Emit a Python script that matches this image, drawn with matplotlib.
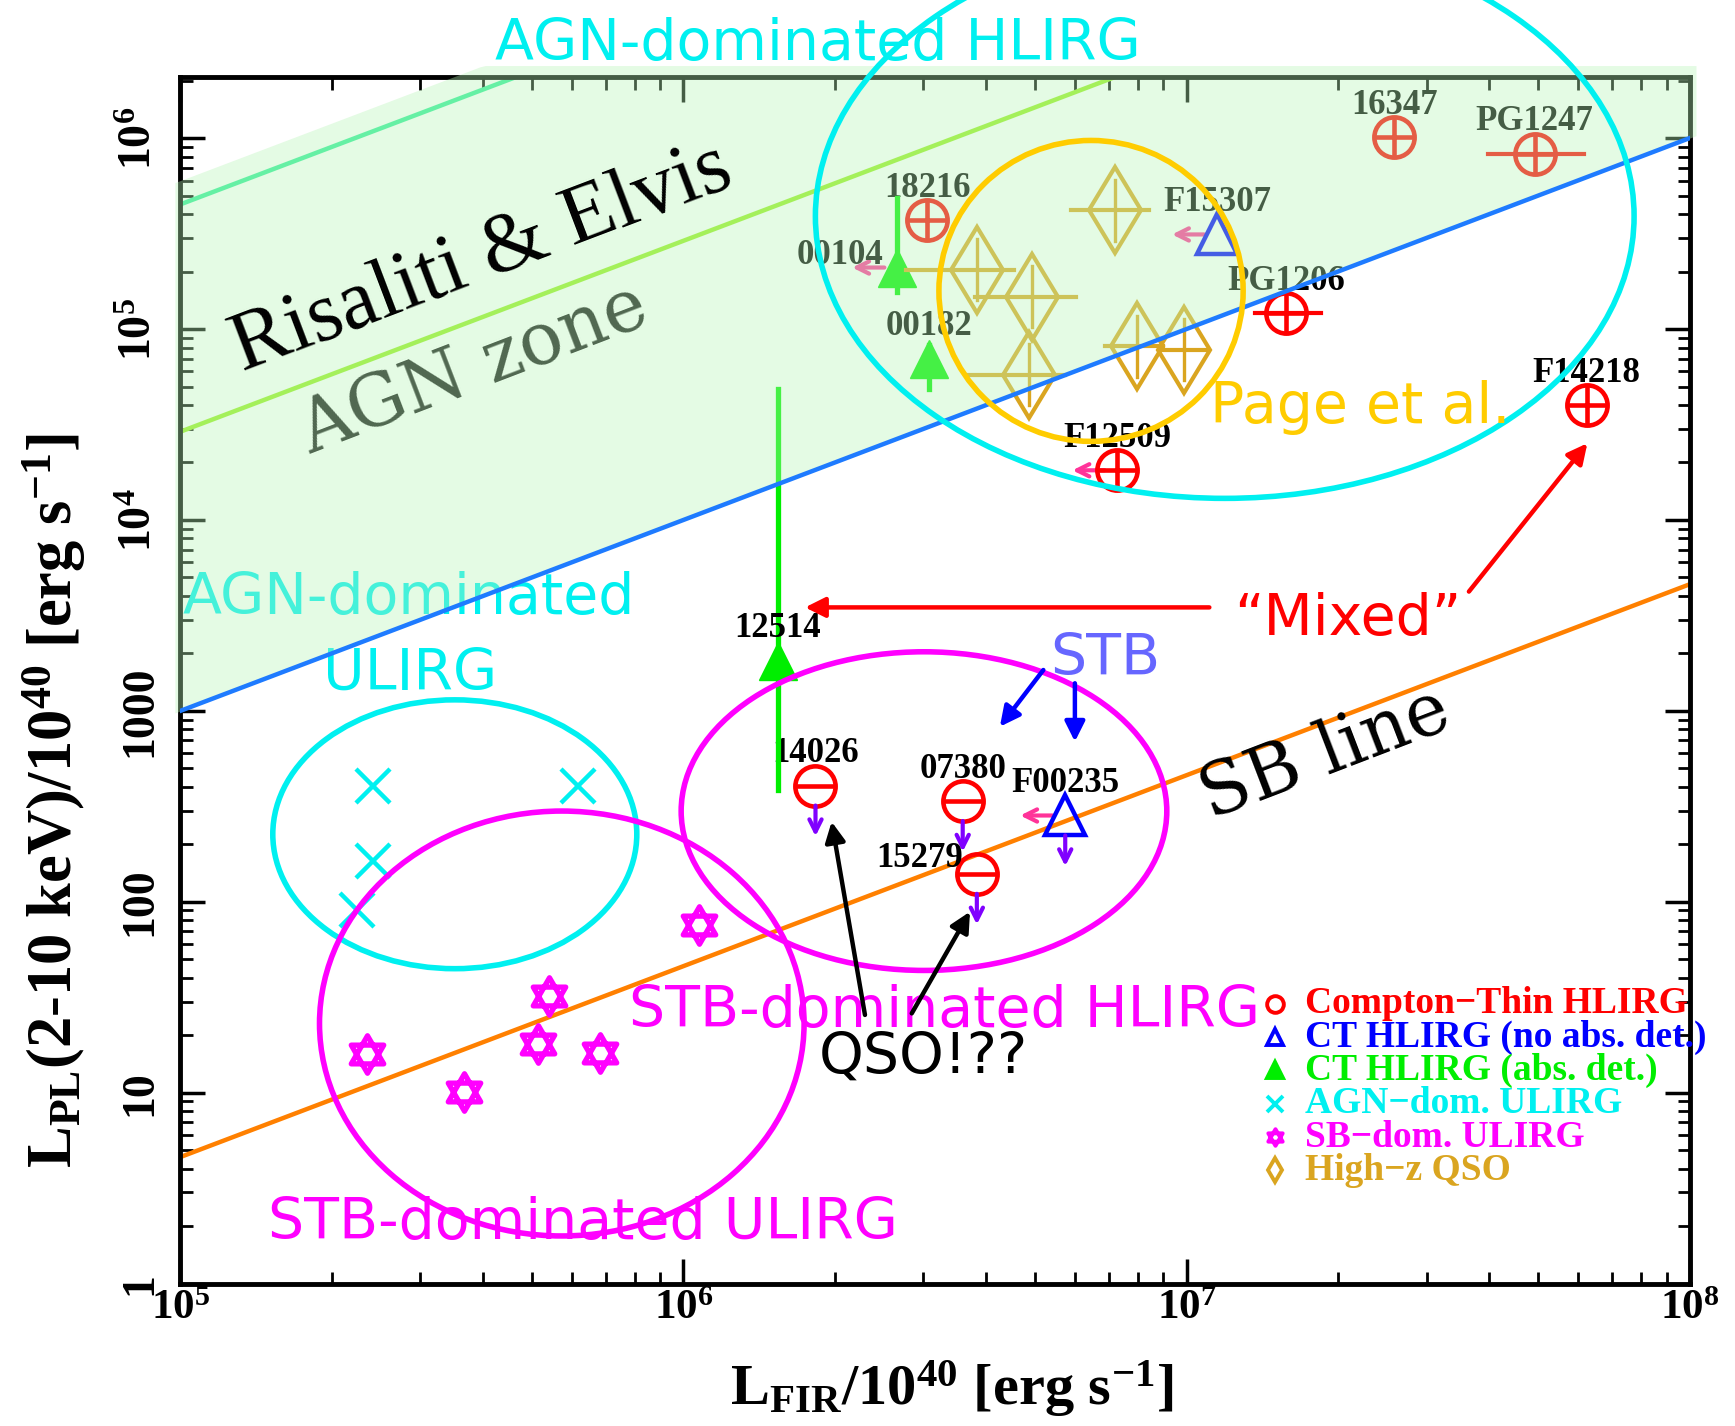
import numpy as np
import matplotlib.pyplot as plt
from matplotlib.patches import Ellipse
from matplotlib.path import Path
from matplotlib.ticker import FixedLocator, FixedFormatter

plt.rcParams['font.family'] = ['Liberation Serif', 'DejaVu Serif']
plt.rcParams['mathtext.fontset'] = 'custom'
plt.rcParams['mathtext.rm'] = 'Liberation Serif:bold'
plt.rcParams['mathtext.it'] = 'Liberation Serif:bold'
plt.rcParams['mathtext.bf'] = 'Liberation Serif:bold'
plt.rcParams['mathtext.default'] = 'rm'

# ---- data (L_FIR/1e40, L_PL/1e40) ----
thin_names = ['18216', '16347', 'PG1247', 'PG1206', 'F14218', 'F12509', '14026', '07380', '15279']
thin_x = [3.05e6, 2.59e7, 4.92e7, 1.58e7, 6.24e7, 7.29e6, 1.83e6, 3.59e6, 3.83e6]
thin_y = [3.72e5, 1.01e6, 8.3e5, 1.21e5, 4.0e4, 1.82e4, 406, 337, 140]
thin_xmin = [np.nan, np.nan, 3.98e7, 1.37e7, np.nan, np.nan, np.nan, np.nan, np.nan]
thin_xmax = [np.nan, np.nan, 6.18e7, 1.85e7, np.nan, np.nan, np.nan, np.nan, np.nan]
thin_yupper = [False, False, False, False, False, False, True, True, True]
thin_xupper = [False, False, False, False, False, True, False, False, False]

ctn_names = ['F15307', 'F00235']
ctn_x = [1.15e7, 5.74e6]
ctn_y = [3.13e5, 283]
ctn_yupper = [False, True]
ctn_xupper = [True, True]

cta_names = ['00104', '00182', '12514']
cta_x = [2.66e6, 3.08e6, 1.54e6]
cta_y = [2.1e5, 7.0e4, 1835]
cta_ylo = [1.56e5, 4.83e4, 385]
cta_yhi = [4.86e5, 8.24e4, 4.83e4]
cta_xupper = [True, False, False]

agn_x = [2.41e5, 6.16e5, 2.41e5, 2.24e5]
agn_y = [406, 406, 164, 91]

sb_x = [2.35e5, 3.67e5, 5.13e5, 5.4e5, 6.82e5, 1.075e6]
sb_y = [15.85, 10.07, 17.9, 32.2, 16.1, 75.5]

qso_x = [7.22e6, 3.83e6, 4.94e6, 4.86e6, 7.99e6, 9.88e6]
qso_y = [4.2e5, 2.04e5, 1.48e5, 5.75e4, 8.13e4, 7.81e4]
qso_xmin = [5.89e6, 2.77e6, 3.79e6, 3.70e6, 6.9e6, 8.97e6]
qso_xmax = [8.44e6, 4.55e6, 6.04e6, 5.74e6, 8.97e6, 1.10e7]

# L_X / L_FIR ratios of the reference lines
re_low_ratio = 1e-2       # lower edge of Risaliti & Elvis zone
re_mid_ratio = 0.29
re_high_ratio = 4.5
re_band_top = 6.0
sb_ratio = 4.6e-5

y_tick_vals = [1, 10, 100, 1000, 1e4, 1e5, 1e6]
y_tick_labels = ['1', '10', '100', '1000', '$10^4$', '$10^5$', '$10^6$']
x_tick_vals = [1e5, 1e6, 1e7, 1e8]
x_tick_labels = ['$10^5$', '$10^6$', '$10^7$', '$10^8$']

legend_labels = ['Compton\u2212Thin HLIRG', 'CT HLIRG (no abs. det.)', 'CT HLIRG (abs. det.)',
                 'AGN\u2212dom. ULIRG', 'SB\u2212dom. ULIRG', 'High\u2212z QSO']

RED, BLUE, GREEN, CYAN, MAG, GOLD = '#ff0000', '#0000ff', '#00ee00', '#00f0f0', '#ff00ff', '#daa520'
PINK, PURPLE = '#ff3399', '#8000ff'

star = Path([(0, 1), (-0.866, -0.5), (0.866, -0.5), (0, 1),
             (0, -1), (0.866, 0.5), (-0.866, 0.5), (0, -1)],
            [Path.MOVETO, Path.LINETO, Path.LINETO, Path.CLOSEPOLY,
             Path.MOVETO, Path.LINETO, Path.LINETO, Path.CLOSEPOLY])

fig = plt.figure(figsize=(17.35, 14.26), dpi=100)
ax = fig.add_axes([0.104, 0.0999, 0.8698, 0.8458])
ax.set_xscale('log')
ax.set_yscale('log')
ax.set_xlim(1e5, 1e8)
ax.set_ylim(1, 2.08e6)

# reference lines
xl = np.array([1e5, 1e8])
ax.plot(xl, sb_ratio * xl, color='#ff8000', lw=3.2, zorder=2)
ax.plot(xl, re_mid_ratio * xl, color='#99ee22', lw=3.2, zorder=2)
ax.plot(xl, re_high_ratio * xl, color='#33ee99', lw=3.2, zorder=2)
ax.plot(xl, re_low_ratio * xl, color='#1e7bff', lw=3.2, zorder=5)

# shaded zone, drawn over the points
xs = np.logspace(np.log10(0.975e5), np.log10(1.03e8), 300)
ax.fill_between(xs, re_low_ratio * xs, np.minimum(re_band_top * xs, 2.4e6),
                color='#b8f5b8', alpha=0.38, lw=0, zorder=4, clip_on=False)


def upper_arrow(x, y):
    ax.annotate('', xy=(x, y / 10**0.28), xytext=(x, y / 10**0.09),
                arrowprops=dict(arrowstyle='->', color=PURPLE, lw=3, mutation_scale=22), zorder=3)


def left_arrow(x, y):
    ax.annotate('', xy=(x / 10**0.095, y), xytext=(x / 10**0.02, y),
                arrowprops=dict(arrowstyle='->', color=PINK, lw=3, mutation_scale=22), zorder=2.9)


label_off = {'15279': (-41, 11), '00104': (-41, 9)}


def name(n, x, y):
    dx, dy = label_off.get(n, (0, 23))
    ax.annotate(n, (x, y), xytext=(dx, dy), textcoords='offset points', ha='center', va='center',
                fontsize=25, fontweight='bold', color='black', zorder=3)


# Compton-thin HLIRGs
for i in range(len(thin_x)):
    x, y = thin_x[i], thin_y[i]
    if not np.isnan(thin_xmin[i]):
        ax.plot([thin_xmin[i], thin_xmax[i]], [y, y], color=RED, lw=3, zorder=3)
    ax.plot(x, y, 'o', ms=29, mfc='none', mec=RED, mew=3.3, zorder=3)
    ax.plot(x, y, '_' if thin_yupper[i] else '+', ms=27, mec=RED, mew=3.3, zorder=3)
    if thin_yupper[i]:
        upper_arrow(x, y)
    if thin_xupper[i]:
        left_arrow(x, y)
    name(thin_names[i], x, y)

# CT HLIRGs without absorption detection
for i in range(len(ctn_x)):
    x, y = ctn_x[i], ctn_y[i]
    ax.plot(x, y, '^', ms=29, mfc='none', mec=BLUE, mew=3.2, zorder=3)
    if ctn_yupper[i]:
        upper_arrow(x, y)
    if ctn_xupper[i]:
        left_arrow(x, y)
    name(ctn_names[i], x, y)

# CT HLIRGs with absorption detection
for i in range(len(cta_x)):
    x, y = cta_x[i], cta_y[i]
    ax.plot([x, x], [cta_ylo[i], cta_yhi[i]], color=GREEN, lw=3.8, zorder=3)
    ax.plot(x, y, '^', ms=27, mfc=GREEN, mec=GREEN, zorder=3)
    if cta_xupper[i]:
        left_arrow(x, y)
    name(cta_names[i], x, y)

ax.plot(agn_x, agn_y, 'x', ms=24, mec=CYAN, mew=3.2, ls='none', zorder=3)
ax.plot(sb_x, sb_y, marker=star, ms=27, mfc='none', mec=MAG, mew=3.8, ls='none', zorder=3)

for i in range(len(qso_x)):
    x, y = qso_x[i], qso_y[i]
    ax.plot([qso_xmin[i], qso_xmax[i]], [y, y], color=GOLD, lw=3, zorder=3)
    ax.plot([x, x], [y / 10**0.16, y * 10**0.16], color=GOLD, lw=2.4, zorder=3)
    ax.plot(x, y, 'd', ms=44, mfc='none', mec=GOLD, mew=3, zorder=3)

# axes styling
for s in ax.spines.values():
    s.set_linewidth(3.5)
ax.tick_params(which='both', direction='in', top=True, right=True)
ax.tick_params(which='major', length=18, width=2.5)
ax.tick_params(which='minor', length=9, width=2)
ax.xaxis.set_major_locator(FixedLocator(x_tick_vals))
ax.xaxis.set_major_formatter(FixedFormatter(x_tick_labels))
ax.yaxis.set_major_locator(FixedLocator(y_tick_vals))
ax.yaxis.set_major_formatter(FixedFormatter(y_tick_labels))
ax.tick_params(axis='x', labelsize=31, pad=5)
ax.tick_params(axis='y', labelsize=33, pad=14, labelrotation=90)
for t in ax.get_xticklabels() + ax.get_yticklabels():
    t.set_fontweight('bold')
for t in ax.get_yticklabels():
    t.set_va('center')

ax.set_xlabel(r'L$_{\rm FIR}$/10$^{40}$ [erg s$^{-1}$]', fontsize=42, fontweight='bold')
ax.xaxis.set_label_coords(0.511, -0.062)
ax.set_ylabel(r'L$_{\rm PL}$(2-10 keV)/10$^{40}$ [erg s$^{-1}$]', fontsize=45, fontweight='bold')
ax.yaxis.set_label_coords(-0.061, 0.40)

# group ellipses (axes fraction)
ell = [((0.692, 0.885), 0.5425, 0.468, CYAN),
       ((0.6034, 0.823), 0.2016, 0.2495, '#ffcc00'),
       ((0.1818, 0.3725), 0.2412, 0.2229, CYAN),
       ((0.2527, 0.2156), 0.3211, 0.3523, MAG),
       ((0.4927, 0.3917), 0.3218, 0.2642, MAG)]
for c, w, h, col in ell:
    ax.add_patch(Ellipse(c, w, h, transform=ax.transAxes, fill=False, ec=col, lw=4, zorder=6, clip_on=False))

sans = ['DejaVu Sans']
def note(x, y, s, col, z=7, **kw):
    ax.text(x, y, s, color=col, transform=ax.transAxes, ha='center', va='baseline',
            fontsize=kw.pop('fontsize', 41), family=kw.pop('family', sans), zorder=z, clip_on=False, **kw)

note(0.4223, 1.0147, 'AGN-dominated HLIRG', CYAN)
note(0.7819, 0.7138, 'Page et al.', '#ffcc00')
note(0.1514, 0.5555, 'AGN-dominated', CYAN, z=3)
note(0.1522, 0.4927, 'ULIRG', CYAN, z=3)
note(0.6127, 0.5046, 'STB', '#6666ff')
note(0.7735, 0.5376, '\u201cMixed\u201d', RED)
note(0.5066, 0.213, 'STB-dominated HLIRG', MAG)
note(0.4923, 0.1743, 'QSO!??', 'black')
note(0.2669, 0.0372, 'STB-dominated ULIRG', MAG)

note(0.205, 0.8334, 'Risaliti & Elvis', 'black', family=['Liberation Serif'], fontsize=61,
     rotation=20.8, rotation_mode='anchor')
note(0.1991, 0.7422, 'AGN zone', '#111111', z=3, family=['DejaVu Serif'], fontsize=52,
     rotation=21, rotation_mode='anchor')
note(0.7636, 0.423, 'SB line', 'black', family=['DejaVu Serif'], fontsize=52,
     rotation=21, rotation_mode='anchor')

# pointer arrows (axes fraction)
arrows = [((0.6818, 0.5606), (0.4139, 0.5606), RED),
          ((0.8538, 0.5737), (0.9323, 0.6967), RED),
          ((0.5718, 0.5087), (0.5430, 0.4617), BLUE),
          ((0.5927, 0.4977), (0.5927, 0.4493), BLUE),
          ((0.4536, 0.2227), (0.4315, 0.3829), 'black'),
          ((0.4846, 0.2240), (0.5232, 0.3083), 'black')]
for tail, head, col in arrows:
    ax.annotate('', xy=head, xytext=tail, xycoords='axes fraction',
                arrowprops=dict(arrowstyle='-|>', color=col, lw=3.2, mutation_scale=30,
                                shrinkA=0, shrinkB=0), zorder=7)

# legend
leg_colors = [RED, BLUE, GREEN, CYAN, MAG, GOLD]
leg_markers = ['o', '^', '^', 'x', star, 'd']
leg_filled = [False, False, True, False, False, False]
for i, lab in enumerate(legend_labels):
    yy = 0.2240 - i * 0.0276
    ax.plot(0.7253, yy + 0.008, marker=leg_markers[i], ms=12, mec=leg_colors[i],
            mfc=leg_colors[i] if leg_filled[i] else 'none', mew=2.8,
            transform=ax.transAxes, clip_on=False, zorder=7)
    ax.text(0.7452, yy, lab, color=leg_colors[i], transform=ax.transAxes, fontsize=27,
            fontweight='bold', va='baseline', ha='left', zorder=7, clip_on=False)

fig.savefig('out.png', dpi=100)
